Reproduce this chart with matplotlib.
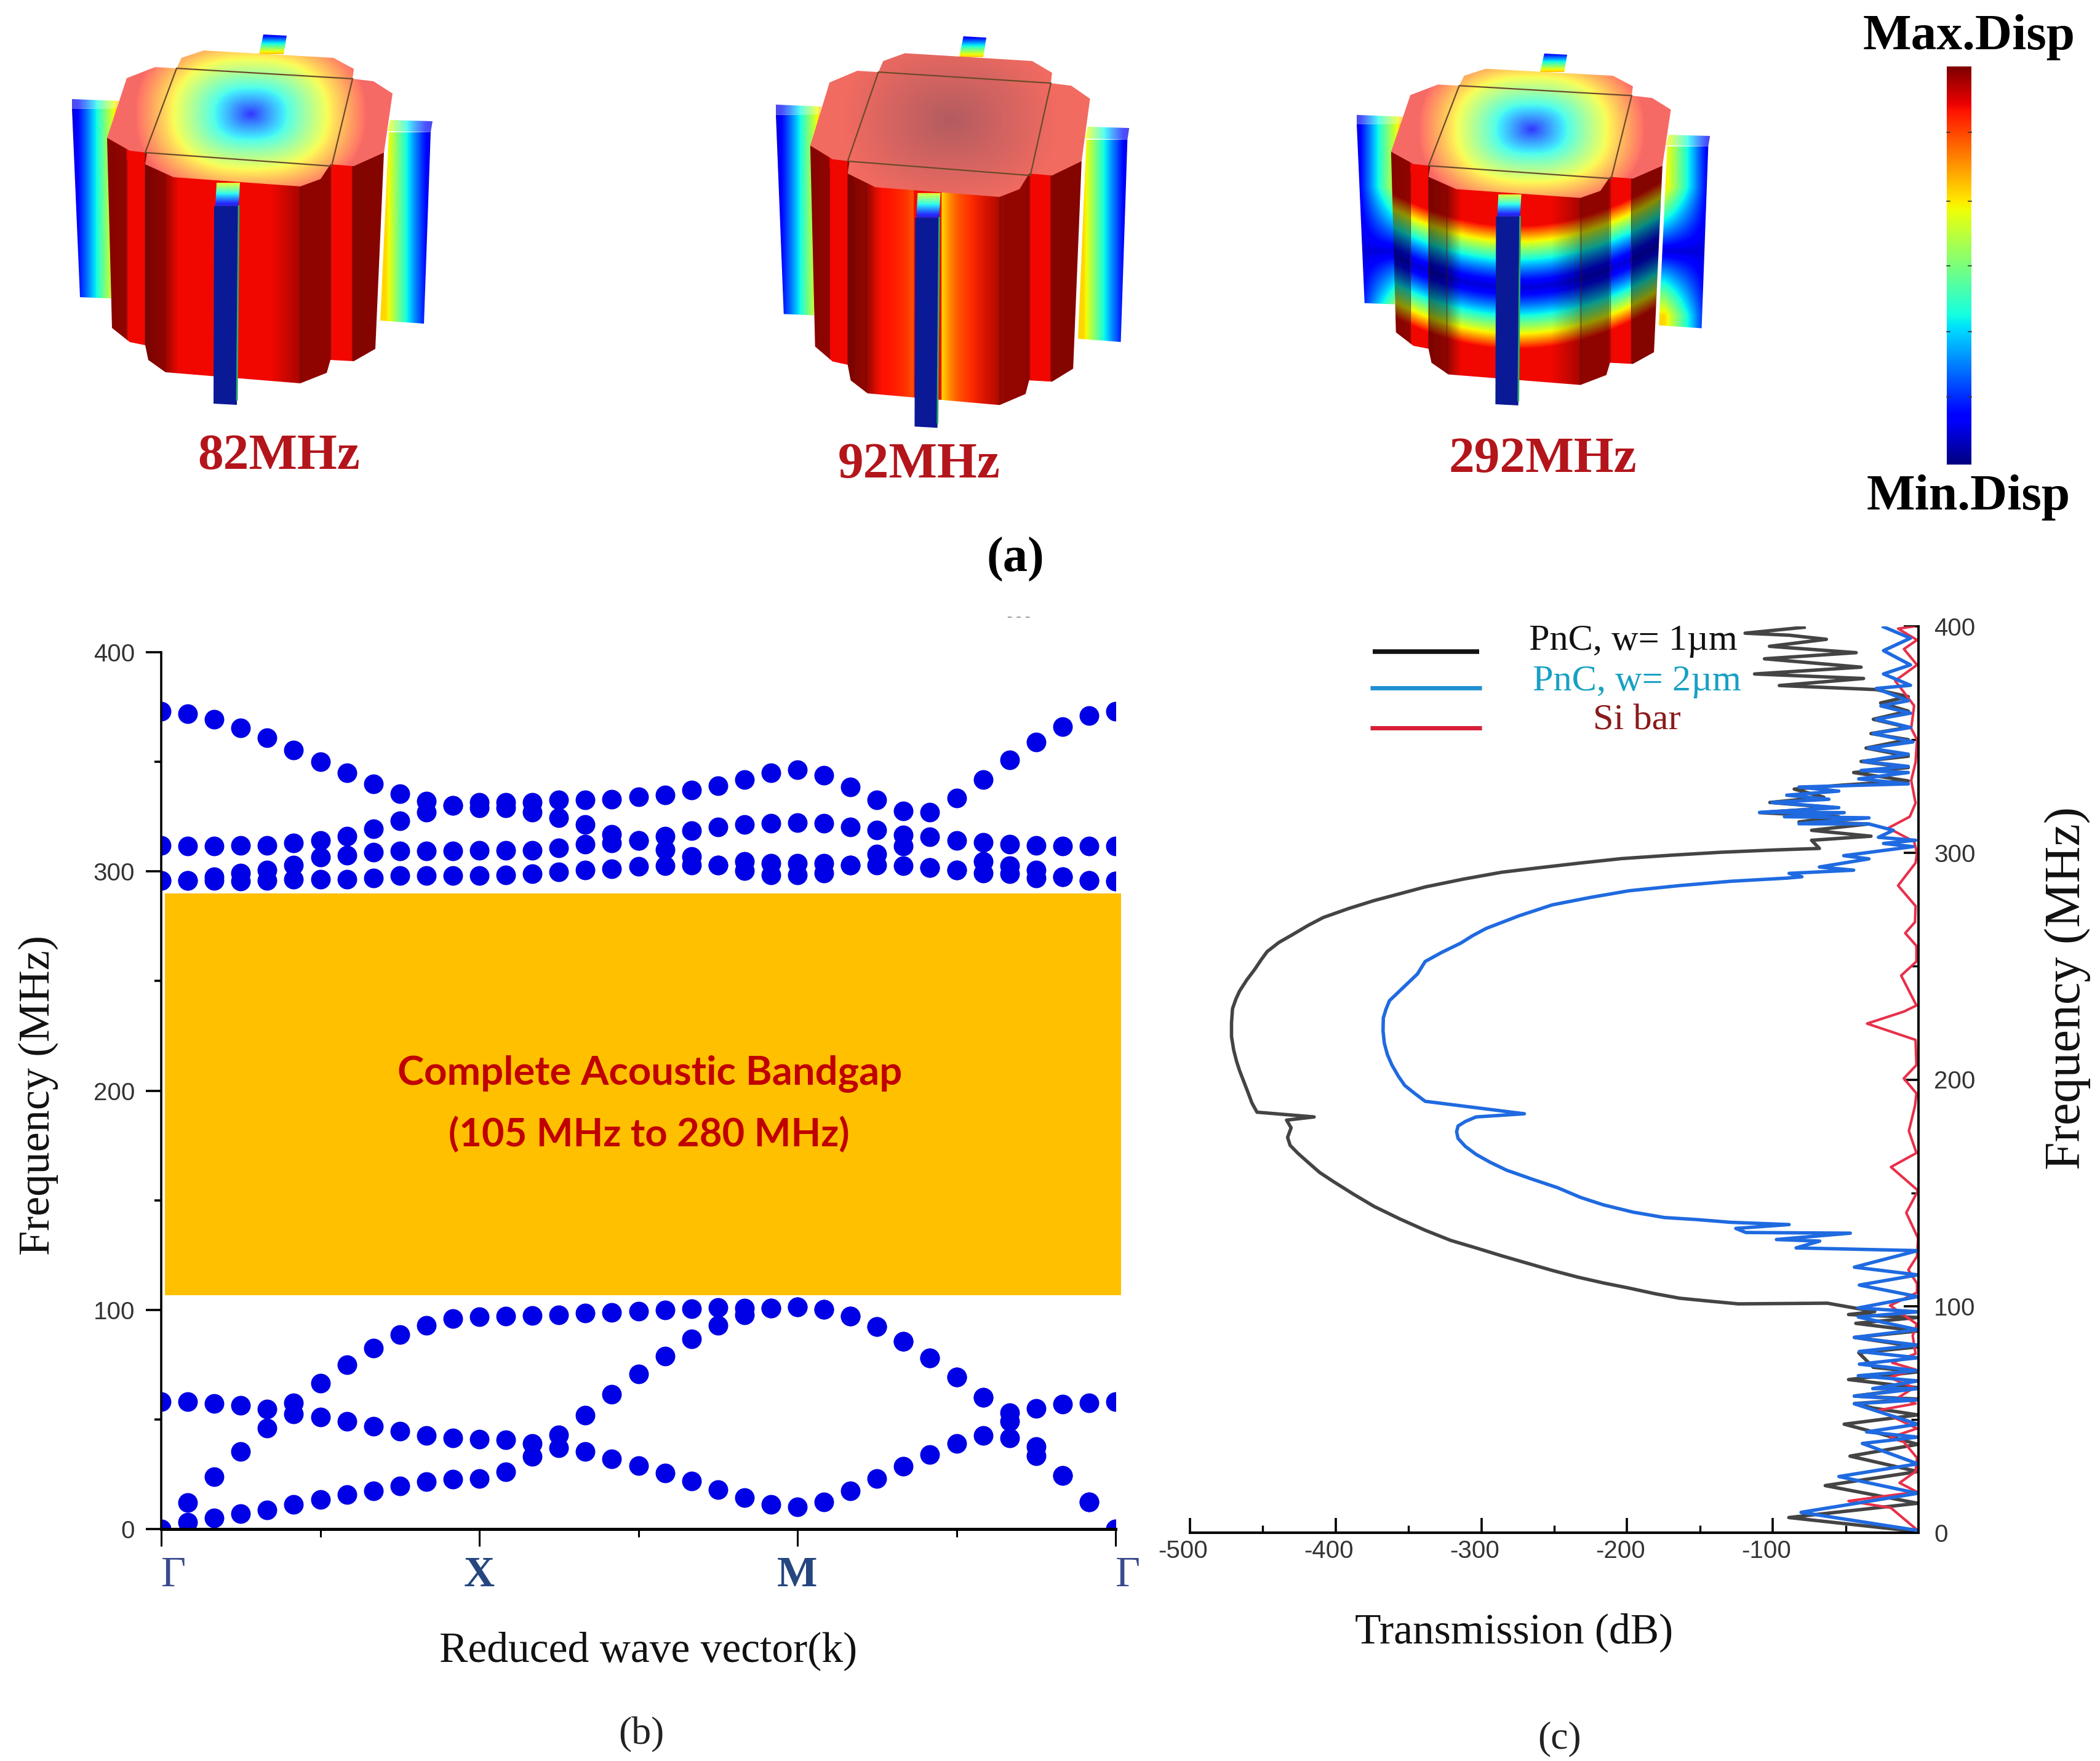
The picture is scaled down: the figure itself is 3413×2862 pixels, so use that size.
import numpy as np
import matplotlib
matplotlib.use("Agg")
import matplotlib.pyplot as plt
from matplotlib.patches import Polygon, Rectangle
from matplotlib.transforms import ScaledTranslation

W, H = 3413, 2862
plt.rcParams["font.family"] = ["Liberation Serif", "DejaVu Sans"]
plt.rcParams["axes.unicode_minus"] = False

# ---- band structure, MHz, one value per k step (37 steps along G-X-M-G)
k_labels = ["Γ", "X", "M", "Γ"]
band_a = [373, 372, 369.5, 365.5, 361, 355.5, 350, 345, 340, 335.5, 332, 330, 331.5, 331.5, 331.5, 332.5, 332.5, 333, 334,
          335, 337, 339, 342, 345, 346.5, 344, 338.5, 332.5, 327.5, 327, 333.5, 342, 351, 359, 366, 371, 373]
band_b = [312, 311.5, 311.5, 312, 312, 313, 314, 316, 319.5, 323, 327, 330, 329, 329, 327, 324.6, 321.3, 317, 314,
          316, 318.5, 320.4, 321.3, 322, 322.3, 322, 320.4, 319, 316.7, 315.7, 314, 313.4, 312.5, 312, 311.7, 311.7, 311.7]
band_c = [296, 296, 297.5, 299.3, 300.7, 303, 306.4, 307.3, 308.7, 309.2, 309.2, 309.4, 309.6, 309.6, 309.6, 310.6, 312.4, 312.9, 314,
          310, 306.8, 303, 304.5, 303.6, 303.6, 303.6, 303, 307.8, 311.5, 301.7, 300.7, 304.5, 302.6, 300.5, 297.5, 296, 295.5]
band_d = [296, 296, 296, 295.6, 296, 296.5, 296.5, 296.5, 297, 298, 298, 298.1, 298.1, 298.4, 298.9, 299.8, 300.7, 301.2, 302.2,
          302.6, 303, 303, 300.3, 298.4, 298.4, 299.3, 303, 303, 302.6, 301.7, 300.7, 299.3, 298.9, 297, 297.5, 296, 295.5]
band_t = [0, 12, 24, 35.5, 46, 57.5, 66.6, 75, 82.5, 88.7, 93, 95.9, 96.8, 97, 97.5, 97.7, 98.5, 98.8, 99.5,
          100, 100.4, 101, 100.9, 100.8, 101.2, 100.2, 97, 92.4, 85.6, 78, 69.3, 60, 53, 37.5, 24.4, 12.4, 0]
band_m = [58, 58, 57.4, 56.3, 54.8, 52.6, 51, 49, 47, 44.6, 42.6, 41.5, 41, 40.7, 39, 37, 35.4, 32, 29,
          25.5, 22, 18, 14.3, 11.3, 10.2, 12.4, 17.5, 23, 28.5, 34, 39, 42.6, 49, 55, 56.9, 57.6, 58]
band_l = [0, 3, 5, 7, 8.6, 11.3, 13.4, 15.6, 17.5, 19.7, 21.5, 22.6, 23, 26, 33, 43, 52, 61.5, 70.7,
          79, 86.7, 93, 97.7, 100.8, 101.2, 100.2, 97, 92.4, 85.6, 78, 69.3, 60, 41.6, 33.3, 24.4, 12.4, 0]
gap_low, gap_high = 106.7, 290

# ---- transmission (dB, MHz)
black_db = [-0.5, -89, -0.5, -64, -0.5, -47, -0.5, -28, -51, -0.5, -31, -44, -0.5, -44, -0.5, -48, -0.5, -31, -41, -0.5,
            -44, -0.5, -43, -0.5, -48, -30, -62.5, -123.7, -145, -164, -181, -198.9, -216, -233.8, -251, -268.8, -286, -303.7,
            -321, -338.6, -356, -373.6, -388, -401.6, -411, -419, -426, -431.3, -433, -430.6, -433.7, -414.8, -454, -457.5,
            -460, -463, -466, -468, -470, -471.5, -471.5, -470.8, -468.5, -466, -461, -455.7, -451, -447, -439, -429.5,
            -419, -408.6, -391, -373.6, -356, -338.6, -312, -286, -260, -233, -204, -170, -136, -100, -68, -73.4, -32.6, -73.4,
            -34.3, -82, -54.7, -109, -58, -102, -65, -85.3, -51.3, -7, -44.5, -7, -39.4, -7, -36, -7, -32.6, -7, -31, -7, -26,
            -7, -29, -95.5, -37.7, -112.5, -39.4, -105.7, -42.8, -102.3, -63.2, -88.7, -119, -78.5]
black_mhz = [0.5, 6.7, 13, 20.8, 27, 33.8, 39, 44, 47.9, 52, 55, 57, 59, 60.3, 64, 67.6, 71, 73, 79.4, 82,
             86.2, 89, 92.4, 95, 96.3, 97.6, 101.3, 101, 102.3, 103.5, 105.5, 108, 110.2, 112.8, 115.7, 119, 122.2, 125.7,
             129, 133.5, 138.5, 144, 149.5, 155, 159, 163.5, 167.5, 171, 174.5, 178.7, 182.1, 183.5, 185.6, 189.7,
             194, 199, 204, 208, 213, 219, 225, 231.3, 235.5, 239, 244, 248.5, 253, 256.5, 260.5, 264,
             268, 271.5, 275.5, 279, 282, 285, 288.5, 291.5, 293.5, 295.5, 297.5, 299, 300.3, 301.3, 302, 305.6, 307.4, 310,
             312.8, 313.7, 316, 317.8, 320, 322.3, 324.6, 328.2, 330, 331.8, 335.5, 337.7, 340.4, 342.7, 346.3, 350, 352.7, 355.4, 359, 362.6, 366.2,
             369, 372.1, 373.9, 377, 379, 382, 385.7, 388.4, 391.2, 394.3, 396.1, 397, 399.6]
blue_db = [-0.5, -80.6, -0.5, -54.6, -0.5, -38.5, -0.5, -35.6, -0.5, -44, -0.5, -44, -0.5, -31.4, -0.5, -41.3, -0.5, -40.6,
           -0.5, -40.6, -0.5, -44, -0.5, -41.3, -0.5, -41.3, -0.5, -40.6, -0.5, -44, -0.5, -84, -67.8, -97.5, -46.8, -118.5,
           -125.4, -88.8, -129, -152, -174.4, -196, -216.3, -232, -247.8, -265, -282.7, -294, -303.7, -311, -316, -317, -316, -311,
           -303.7, -270.5, -338.6, -346, -352.6, -357, -361.4, -364.5, -366.6, -367.5, -367.3, -365.5, -363.1, -353, -343.9,
           -338.6, -327, -314.2, -306, -296.7, -274, -251.3, -225, -198.9, -164, -129, -90.5, -80, -88.8, -44.5, -68, -34,
           -51.3, -3.8, -24, -2, -27.5, -17.3, -34, -82, -34, -92, -51, -109, -54.7, -100.6, -61.5, -90.4, -54.7, -82, -7, -41,
           -7, -39.4, -7, -37.7, -7, -34.3, -3.8, -31, -5.5, -29, -5.5, -25.8, -7, -29, -5.5, -24, -5.5, -24, -5.5, -24]
blue_mhz = [1, 9, 17.4, 24.8, 30.4, 39.4, 42.2, 44.5, 47.9, 56.9, 58.6, 60.3, 63.6, 63.6, 67, 69.3, 71.5, 74.4,
            77.2, 80, 82.8, 86.2, 89.6, 95.2, 97.5, 99.2, 104.2, 109.3, 113.8, 117.2, 124.5, 125.7, 128.7, 129.4, 132.2, 132.5,
            134.3, 136, 137, 138.2, 139.1, 141.5, 144.7, 148, 152.3, 156, 160, 163.5, 167, 170.5, 174, 177, 179.5, 181.5,
            183.5, 184.9, 190.4, 194, 197.4, 201.5, 206.4, 211, 216, 221.5, 227.2, 231, 234.8, 241, 246.6,
            252.1, 256.2, 260.2, 263.5, 266.7, 272.3, 277.1, 280.4, 283.3, 285.6, 287.5, 288.9, 289.5, 291, 292.4, 293.8, 297.4,
            298.8, 302.8, 304.2, 305.6, 306.9, 310, 312.8, 312.9, 315.5, 316, 317.8, 317.9, 320, 322.3, 323.7, 325.5, 327.3, 329.1, 330.5, 332.7,
            335.5, 336.4, 338.2, 340.4, 343.6, 346.3, 349, 352.7, 355.4, 359, 361.7, 364.9, 367.2, 372.6, 374, 379, 383, 389.3, 394.8, 399.8]
red_db = [-0.5, -19, -48, -25, -1, -13, -2, -1, -10, -19.5, -1, -14, -28, -2, -13, -3, -20, -2, -18, -2, -4, -1, -19.5, -1, -1,
          -7, -1, -0.3, -8.4, -0.3, -18.9, -1.4, -6.6, -2.4, -1.4, -10.1, -1.4, -2, -35.3, -10, -1.4, -11.9, -1.4, -1.4, -9.1,
          -2.4, -2, -14, -2, -1, -3, -20.7, -6, -2, -5, -2, -1, -5, -3, -16, -1, -10, -1, -14, -3]
red_mhz = [1, 11, 14, 16, 18, 22, 27, 33, 40, 42, 46, 50, 54, 57, 60, 64, 68.5, 72, 75, 79, 87, 92, 100.3, 106, 110,
           116, 122, 130, 141.2, 151, 161.4, 167.6, 177.3, 188.4, 193.9, 200.5, 206.4, 217.5, 224.7, 230, 232.7, 245.9, 252.1, 259, 264.6,
           269.5, 276.6, 285.6, 295.6, 300, 305, 311, 316, 322, 332, 340, 350, 355, 365, 376, 383, 390, 394, 399, 400]

# ---- labels
cell_labels = ["82MHz", "92MHz", "292MHz"]
legend_labels = ["PnC, w= 1µm", "PnC, w= 2µm", "Si bar"]


def px_axes(left, right, top, bottom):
    return fig.add_axes([left / W, 1 - bottom / H, (right - left) / W, (bottom - top) / H])


def label(x, y, s, **kw):
    kw.setdefault("ha", "center")
    kw.setdefault("va", "center")
    fig.text(x / W, 1 - y / H, s, **kw)


def jet(v):
    return plt.cm.jet(np.clip(v, 0, 1))[..., :3]


def lighten(rgb, a):
    return rgb * (1 - a) + a


def paint(poly, fn, tf, zorder):
    # fill a polygon given in base-cell pixels with an image computed on that same grid
    poly = np.array(poly, dtype=float)
    xs = np.arange(poly[:, 0].min(), poly[:, 0].max() + 2, 2)
    ys = np.arange(poly[:, 1].min(), poly[:, 1].max() + 2, 2)
    xx, yy = np.meshgrid(xs, ys)
    placed = tf(poly)
    x0, y0 = tf(np.array([[xs[0], ys[0]]]))[0]
    x1, y1 = tf(np.array([[xs[-1], ys[-1]]]))[0]
    im = bg.imshow(fn(xx, yy), extent=(x0, x1, y1, y0), origin="upper", aspect="auto",
                   interpolation="bilinear", zorder=zorder)
    im.set_clip_path(Polygon(placed, transform=bg.transData))


# cell outline, in pixels of the first cell
plate = [(331, 82), (542, 94), (575, 112), (573, 128), (607, 132), (638, 152), (624, 248), (575, 270), (537, 267), (521, 291),
         (488, 303), (282, 288), (236, 267), (239, 248), (211, 245), (174, 224), (206, 127), (252, 109), (287, 111), (295, 94)]
plate_square = [(287, 111), (573, 128), (539, 270), (236, 248)]
body = [(174, 224), (182, 533), (211, 556), (236, 561), (241, 585), (269, 605), (488, 623), (531, 606), (537, 585),
        (575, 587), (610, 567), (624, 248), (400, 200)]
shade_x = [174, 205, 206, 235, 236, 266, 290, 440, 487, 488, 536, 537, 572, 573, 624]
shade_v = [.55, .6, 1, 1, .5, .6, 1, 1, .7, .6, .6, 1, 1, .55, .55]
face_edges = [(206, 552), (236, 558), (266, 602), (488, 620), (537, 583), (572, 584)]
RED = .9


def band_dist(x, y):
    return np.abs(y - (456 - 58 * ((x - 382) / 210) ** 2))


def body_rgb(mode):
    def fn(x, y):
        if mode == 1:
            v = np.full(x.shape, RED)
        elif mode == 2:
            v = RED - .22 * np.exp(-np.clip(x - 392, 0, None) / 28) * (x > 390) - .08 * np.exp(-np.clip(345 - x, 0, None) / 25) * (x < 346)
        else:
            v = .08 + .82 * np.clip(band_dist(x, y) / 105, 0, 1) ** 1.3
        return jet(v) * np.interp(x, shade_x, shade_v)[..., None]
    return fn


def top_rgb(mode):
    def fn(x, y):
        r = (np.abs((x - 407) / 180) ** 2.4 + np.abs((y - 185) / 130) ** 2.4) ** (1 / 2.4)
        if mode == 2:
            w = np.clip(r, 0, 1)[..., None]
            return np.array([.95, .42, .38]) * w + np.array([.70, .36, .38]) * (1 - w)
        fade = (.2 + .2 * np.clip(r, 0, 1))[..., None]
        return lighten(jet(np.minimum(.13 + .74 * r, RED)), fade)
    return fn


def tether_rgb(mode, side):
    def fn(x, y):
        u = (x - 117) / 73 if side == "left" else (703 - x) / 76
        u = np.clip(u, 0, 1)
        if mode == 3:
            return jet(.08 + .6 * u * np.clip(np.abs(y - 395) / 110, 0, 1))
        return jet(.08 + .6 * u ** 1.2)
    return fn


def draw_cell(ox, oy, sx, sy, mode):
    def tf(p):
        p = np.asarray(p, dtype=float)
        return np.column_stack([ox + (p[:, 0] - 117) * sx, oy + (p[:, 1] - 56) * sy])

    # back tether
    paint([(428, 56), (466, 58), (461, 88), (421, 88)], lambda x, y: jet(.1 + .6 * (y - 56) / 32), tf, 1)
    # side tethers
    left_fn, right_fn = tether_rgb(mode, "left"), tether_rgb(mode, "right")
    paint([(117, 177), (190, 176), (180, 485), (130, 483)], left_fn, tf, 1)
    paint([(117, 161), (193, 164), (190, 176), (117, 177)], lambda x, y: lighten(left_fn(x, y), .3), tf, 1)
    paint([(632, 215), (700, 215), (689, 526), (618, 521)], right_fn, tf, 1)
    paint([(634, 195), (703, 197), (700, 215), (630, 213)], lambda x, y: lighten(right_fn(x, y), .3), tf, 1)
    # pillar and top plate
    paint(body, body_rgb(mode), tf, 2)
    for xe, ye in face_edges:
        seg = tf([(xe, 260), (xe, ye)])
        bg.plot(seg[:, 0], seg[:, 1], color="#5a1010", lw=.9, zorder=3, alpha=.6)
    paint(plate, top_rgb(mode), tf, 4)
    sq = tf(plate_square)
    bg.add_patch(Polygon(sq, closed=True, fill=False, ec="#6b4a2a", lw=1.6, zorder=5))
    # front tether
    paint([(352, 297), (390, 297), (388, 335), (350, 335)],
          lambda x, y: lighten(jet(.62 - .55 * (y - 297) / 38), .15), tf, 6)
    bg.add_patch(Polygon(tf([(348, 335), (388, 335), (385, 658), (347, 656)]), closed=True, fc="#0a1a96", ec="none", zorder=6))
    edge = tf([(388, 335), (385, 650)])
    bg.plot(edge[:, 0], edge[:, 1], color="#2aa870", lw=2, zorder=7)


fig = plt.figure(figsize=(W / 100, H / 100), dpi=100)

# full figure layer in pixel coordinates for the rendered cells and the colour bar
bg = fig.add_axes([0, 0, 1, 1])
bg.set_xlim(0, W)
bg.set_ylim(H, 0)
bg.set_autoscale_on(False)
bg.axis("off")

draw_cell(117, 56, 1, 1, 1)
draw_cell(1261, 59, .98, 1.057, 2)
draw_cell(2205, 87, .98, .95, 3)

bar = np.linspace(1, 0, 256)[:, None]
bg.imshow(bar, cmap="jet", extent=(3164, 3204, 755, 108), origin="upper", aspect="auto", zorder=2)
for yb in [215, 327, 432, 539, 645]:
    bg.plot([3164, 3169], [yb, yb], color="#333333", lw=1.2, zorder=3)
    bg.plot([3199, 3204], [yb, yb], color="#333333", lw=1.2, zorder=3)

for (cx, cy), s in zip([(453, 742), (1494, 756), (2507, 747)], cell_labels):
    label(cx, cy, s, fontsize=60, fontweight="bold", color="#b3151b")
label(3200, 60, "Max.Disp", fontsize=60, fontweight="bold", color="black")
label(3199, 808, "Min.Disp", fontsize=60, fontweight="bold", color="black")
label(1650, 909, "(a)", fontsize=58, fontweight="bold", color="black")
label(1656, 1003, "- - -", fontsize=18, color="#999999")

# ---- (b) band structure
ax_b = px_axes(262, 1813, 1060, 2485)
ax_b.patch.set_alpha(0)
k = np.arange(len(band_a))
for band in [band_a, band_b, band_c, band_d, band_t, band_m, band_l]:
    ax_b.plot(k, band, linestyle="none", marker="o", ms=23, mfc="#0000e6", mec="none", zorder=2)
ax_b.add_patch(Rectangle((0.15, gap_low), 36.05, gap_high - gap_low, fc="#FFC000", ec="none", zorder=3, clip_on=False))
ax_b.set_xlim(0, 36)
ax_b.set_ylim(0, 400)
ax_b.set_xticks([0, 12, 24, 36])
ax_b.set_xticks([6, 18, 30], minor=True)
ax_b.set_xticklabels(k_labels)
ax_b.set_yticks([0, 100, 200, 300, 400])
ax_b.set_yticks([50, 150, 250, 350], minor=True)
for s in ["top", "right"]:
    ax_b.spines[s].set_visible(False)
ax_b.spines["left"].set_linewidth(2.6)
ax_b.spines["bottom"].set_linewidth(3.6)
ax_b.spines["left"].set_zorder(5)
ax_b.spines["bottom"].set_zorder(5)
ax_b.tick_params(axis="y", which="major", length=18, width=2.6, pad=13, labelsize=29, labelcolor="#333333")
ax_b.tick_params(axis="y", which="minor", length=8, width=2.6)
ax_b.tick_params(axis="x", which="major", length=20, width=2.2, pad=12, labelsize=50, labelcolor="#25467f")
ax_b.tick_params(axis="x", which="minor", length=9, width=2.2)
for t in ax_b.get_yticklabels():
    t.set_family("Liberation Sans")
for t, weight, size, ha, col in zip(ax_b.get_xticklabels(), ["normal", "bold", "bold", "normal"], [50, 50, 50, 50],
                                    ["left", "center", "center", "left"], ["#3b4a8c", "#25467f", "#25467f", "#3b4a8c"]):
    t.set_fontweight(weight)
    t.set_fontsize(size)
    t.set_ha(ha)
    t.set_color(col)
label(1056, 1746, "Complete Acoustic Bandgap", fontsize=47, fontweight="bold", color="#C00000", family="Lato")
label(1055, 1844, "(105 MHz to 280 MHz)", fontsize=45.5, fontweight="bold", color="#C00000", family="Lato")
label(62, 1780, "Frequency (MHz)", fontsize=52, rotation=90, color="#111111")
label(1054, 2683, "Reduced wave vector(k)", fontsize=50, color="#111111")
label(1042, 2819, "(b)", fontsize=46, color="#222222")

# ---- (c) transmission
ax_c = px_axes(1934, 3118, 1018, 2491)
ax_c.patch.set_alpha(0)
ax_c.plot(black_db, black_mhz, color="#444444", lw=4, zorder=2)
ax_c.plot(red_db, red_mhz, color="#e8304a", lw=3, zorder=3)
ax_c.plot(blue_db, blue_mhz, color="#1f6ae0", lw=4, zorder=4)
ax_c.set_xlim(-500, 0)
ax_c.set_ylim(0, 400)
ax_c.set_xticks([-500, -400, -300, -200, -100])
ax_c.set_xticks([-450, -350, -250, -150, -50], minor=True)
ax_c.set_yticks([0, 100, 200, 300, 400])
ax_c.set_yticks([50, 150, 250, 350], minor=True)
ax_c.yaxis.tick_right()
for s in ["top", "left"]:
    ax_c.spines[s].set_visible(False)
ax_c.spines["right"].set_linewidth(2.8)
ax_c.spines["bottom"].set_linewidth(3)
ax_c.spines["right"].set_zorder(5)
ax_c.tick_params(axis="both", which="major", direction="in", length=17, width=2.6, labelsize=29, labelcolor="#333333")
ax_c.tick_params(axis="both", which="minor", direction="in", length=9, width=2.4)
ax_c.tick_params(axis="x", which="major", pad=8)
ax_c.tick_params(axis="y", which="major", pad=18)
for t in ax_c.get_xticklabels() + ax_c.get_yticklabels():
    t.set_family("Liberation Sans")
# source figure has the x labels sitting a little left of their ticks
shift = ScaledTranslation(-11 / 100, 0, fig.dpi_scale_trans)
for t in ax_c.get_xticklabels():
    t.set_transform(t.get_transform() + shift)

# legend, drawn by hand like the source figure
for yl, xa, xb, col, lw in [(1059, 2231, 2404, "#111111", 5.4), (1118, 2227, 2408, "#1f8fd0", 5), (1183, 2227, 2408, "#d81e3a", 5)]:
    bg.plot([xa, xb], [yl, yl], color=col, lw=lw, solid_capstyle="butt", zorder=2)
label(2654, 1042, legend_labels[0], fontsize=43.5, color="#111111")
label(2660, 1108, legend_labels[1], fontsize=43.5, color="#18a0c4")
label(2660, 1172, legend_labels[2], fontsize=43.5, color="#8b1a1a")

label(3360, 1606, "Frequency (MHz)", fontsize=59, rotation=90, color="#111111")
label(2461, 2653, "Transmission (dB)", fontsize=50, color="#111111")
label(2535, 2826, "(c)", fontsize=46, color="#222222")

fig.savefig("out.png", dpi=100, facecolor="white")
